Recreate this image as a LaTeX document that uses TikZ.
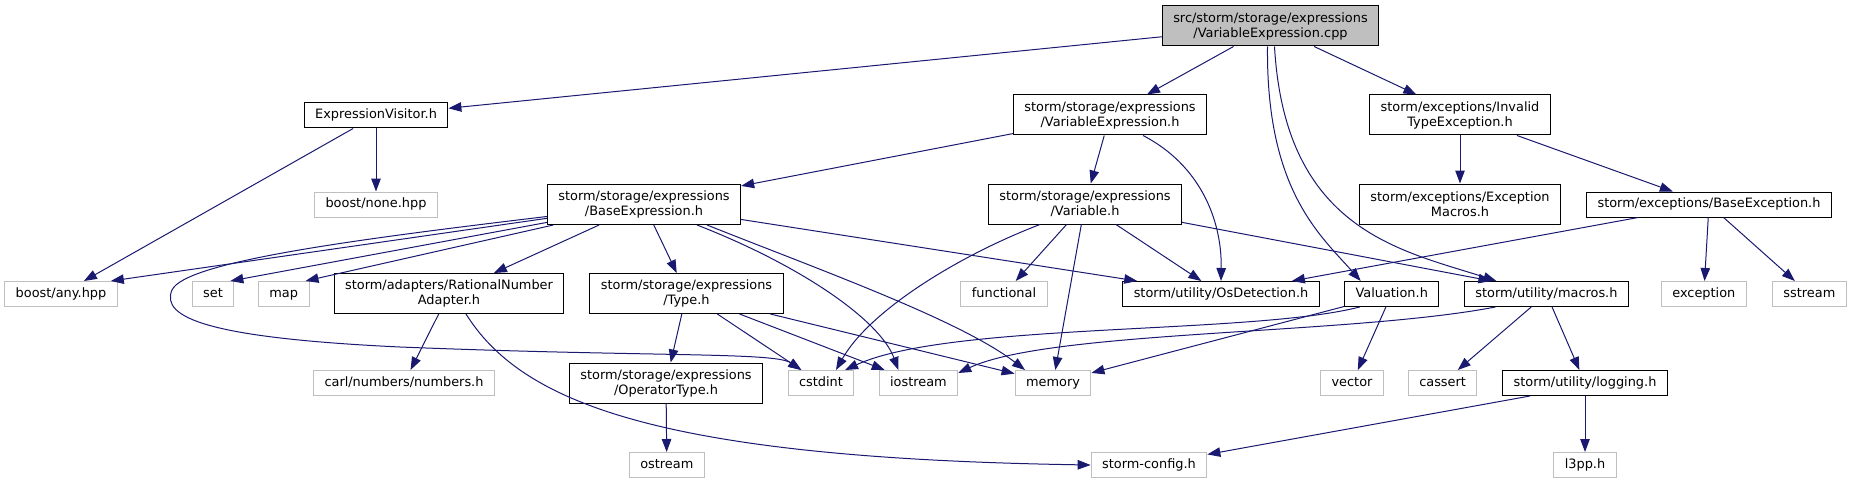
\documentclass[tikz,border=0pt]{standalone}
\usepackage{fontspec}
\setmainfont{DejaVu Sans}
\usetikzlibrary{arrows.meta,calc}
\definecolor{edgeblue}{RGB}{25,25,112}
\definecolor{lightgrey}{RGB}{191,191,191}

\begin{document}
\begin{tikzpicture}[x=1pt,y=-1pt]

\tikzset{box/.style = {line width=1pt, font=\fontsize{12.9}{15}\selectfont, inner xsep=11pt, inner ysep=1pt}}
\tikzset{docfile/.style = {box, draw=black, minimum height=25pt, text height=9.5pt, text depth=2.8pt}}
\tikzset{sysfile/.style = {box, draw=lightgrey, minimum height=25pt, text height=9.5pt, text depth=2.8pt}}
\tikzset{twoline/.style = {box, draw=black, align=center, minimum height=40pt}}
\tikzset{mainfile/.style = {twoline, fill=lightgrey}}
\tikzset{inc/.style = {->, > = {Triangle[length=13pt,width=9.5pt]}, draw=edgeblue, line width=1pt}}

\useasboundingbox (0,0) rectangle (1852,484);

% vertices
\node[mainfile] (root) at (1270.5,26) {src/storm/storage/expressions\\/VariableExpression.cpp};
\node[docfile] (ev) at (376,115.5) {ExpressionVisitor.h};
\node[twoline] (ve) at (1110,115) {storm/storage/expressions\\/VariableExpression.h};
\node[twoline] (inv) at (1460,115) {storm/exceptions/Invalid\\TypeException.h};

\node[sysfile] (none) at (376,204.5) {boost/none.hpp};
\node[twoline] (base) at (644,204.5) {storm/storage/expressions\\/BaseExpression.h};
\node[twoline] (var) at (1085,204) {storm/storage/expressions\\/Variable.h};
\node[twoline] (emac) at (1460,204) {storm/exceptions/Exception\\Macros.h};
\node[docfile] (bexc) at (1709,204.5) {storm/exceptions/BaseException.h};

\node[sysfile] (any) at (61,294) {boost/any.hpp};
\node[sysfile] (set) at (213,294) {set};
\node[sysfile] (map) at (283.7,294) {map};
\node[twoline] (rat) at (449,293.5) {storm/adapters/RationalNumber\\Adapter.h};
\node[twoline] (type) at (686.5,293.5) {storm/storage/expressions\\/Type.h};
\node[sysfile] (func) at (1004,294) {functional};
\node[docfile] (osd) at (1221,294) {storm/utility/OsDetection.h};
\node[docfile] (val) at (1391.7,294) {Valuation.h};
\node[docfile] (mac) at (1546.4,294) {storm/utility/macros.h};
\node[sysfile] (exc) at (1703.8,294) {exception};
\node[sysfile] (sst) at (1809.4,294) {sstream};

\node[sysfile] (carl) at (404,383) {carl/numbers/numbers.h};
\node[twoline] (optype) at (666,383) {storm/storage/expressions\\/OperatorType.h};
\node[sysfile] (cstd) at (821,383) {cstdint};
\node[sysfile] (ios) at (918.4,383) {iostream};
\node[sysfile] (mem) at (1053,383) {memory};
\node[sysfile] (vec) at (1352,383) {vector};
\node[sysfile] (cas) at (1442.6,383) {cassert};
\node[docfile] (log) at (1585,383) {storm/utility/logging.h};

\node[sysfile] (ostr) at (666.8,465) {ostream};
\node[sysfile] (cfg) at (1149,465) {storm-config.h};
\node[sysfile] (l3pp) at (1585,465) {l3pp.h};

%edges
\draw[inc] (root) to (ev);
\draw[inc] (root) to (ve);
\draw[inc] (root) to (inv);
\draw[inc] ($(root.south)+(-3,0)$) .. controls (1266,190) and (1320,235) .. ($(val.north)+(-31,0)$);
\draw[inc] ($(root.south)+(4,0)$) .. controls (1285,230) and (1400,250) .. ($(mac.north)+(-50,0)$);

\draw[inc] (ev) to (none);
\draw[inc] (ev) to (any);

\draw[inc] (ve) to (base);
\draw[inc] (ve) to (var);
\draw[inc] ($(ve.south)+(33,0)$) .. controls (1200,165) and (1222,220) .. (osd.north);

\draw[inc] (inv) to (emac);
\draw[inc] (inv) to (bexc);

\draw[inc] (bexc) to (osd);
\draw[inc] (bexc) to (exc);
\draw[inc] (bexc) to (sst);

\draw[inc] (base) to ($(any.north east)+(-7,0)$);
\draw[inc] ($(base.west)+(0,12)$) .. controls (350,240) and (185,262) .. (172,290)
  .. controls (160,318) and (210,338) .. (400,347)
  .. controls (650,357) and (775,352) .. ($(cstd.north)+(-20,0)$);
\draw[inc] (base) to ($(set.north east)+(-4,0)$);
\draw[inc] (base) to ($(map.north east)+(-4,0)$);
\draw[inc] (base) to (rat);
\draw[inc] (base) to (type);
\draw[inc] ($(base.south)+(53,0)$) .. controls (800,265) and (880,320) .. ($(ios.north)+(-20,0)$);
\draw[inc] ($(base.south)+(63,0)$) .. controls (820,270) and (960,320) .. ($(mem.north)+(-28,0)$);
\draw[inc] (base) to (osd);

\draw[inc] ($(var.south)+(-45,0)$) .. controls (960,255) and (870,310) .. ($(cstd.north)+(15,0)$);
\draw[inc] (var) to (func);
\draw[inc] (var) to (mem);
\draw[inc] (var) to (osd);
\draw[inc] (var) to ($(mac.north)+(-55,0)$);

\draw[inc] (rat) to (carl);
\draw[inc] ($(rat.south)+(17,0)$) .. controls (520,400) and (650,458) .. (cfg.west);

\draw[inc] (type) to (optype);
\draw[inc] (type) to (cstd);
\draw[inc] (type) to (ios);
\draw[inc] (type) to (mem);
\draw[inc] (optype) to (ostr);

\draw[inc] (val) to (vec);
\draw[inc] ($(val.south)+(-32,0)$) .. controls (1250,335) and (950,322) .. ($(cstd.north)+(24,0)$);
\draw[inc] (val) to (mem);

\draw[inc] ($(mac.south)+(-51,0)$) .. controls (1350,335) and (1050,330) .. ($(ios.east)+(0,-10)$);
\draw[inc] (mac) to (cas);
\draw[inc] (mac) to (log);

\draw[inc] ($(log.south)+(-55,0)$) to (cfg);
\draw[inc] (log) to (l3pp);

\end{tikzpicture}
\end{document}
